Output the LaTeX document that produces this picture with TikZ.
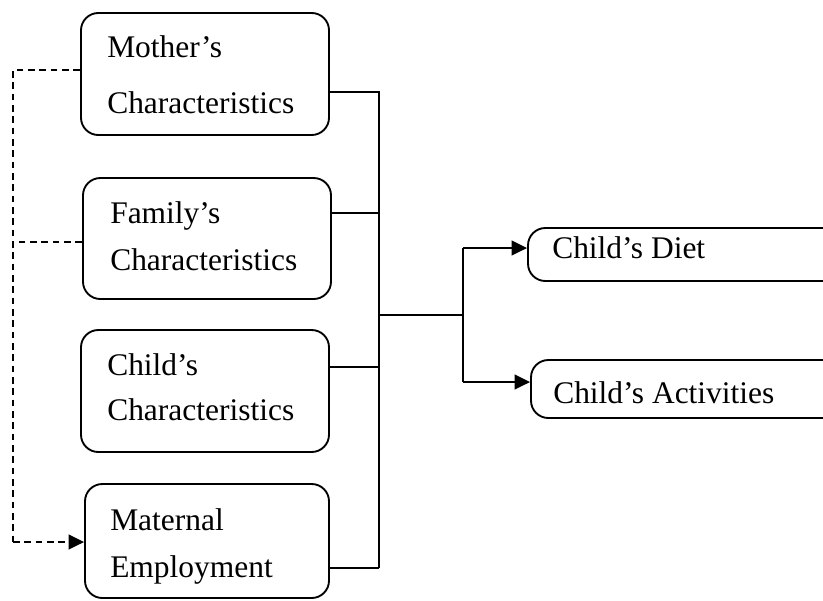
\documentclass[tikz,border=0pt]{standalone}
\usepackage{fontspec}
\setmainfont{Liberation Serif}
\usetikzlibrary{arrows.meta}
\begin{document}
\begin{tikzpicture}[x=0.75pt,y=-0.75pt,
  box/.style={draw, line width=1.4pt, rounded corners=13pt, inner sep=0pt},
  lbl/.style={anchor=base west, inner sep=0pt, font=\fontsize{23.6}{28}\selectfont},
  conn/.style={line width=1.4pt},
  dconn/.style={line width=1.4pt, dash pattern=on 5pt off 3.5pt},
  tip/.style={-{Triangle[length=11.5pt,width=11pt]}}]
\clip (0,0) rectangle (823,600);
\useasboundingbox (0,0) rectangle (823,600);
% boxes
\node[box, minimum width=186pt, minimum height=91.5pt] (mo) at (205,74) {};
\node[box, minimum width=186pt, minimum height=90.75pt] (fa) at (207,238.5) {};
\node[box, minimum width=186pt, minimum height=91.5pt] (ch) at (205,391) {};
\node[box, minimum width=183pt, minimum height=85.5pt] (me) at (207,541) {};
\node[box, minimum width=241.5pt, minimum height=39.75pt] (di) at (689,254.5) {};
\node[box, minimum width=239.25pt, minimum height=43.5pt] (ac) at (690.5,389) {};
% texts
\node[lbl] (t1a) at (107,57) {Mother’s};
\node[lbl] (t1b) at (107,113) {Characteristics};
\node[lbl] (t2a) at (110,223) {Family’s};
\node[lbl] (t2b) at (110,270) {Characteristics};
\node[lbl] (t3a) at (107,375) {Child’s};
\node[lbl] (t3b) at (107,420) {Characteristics};
\node[lbl] (t4a) at (110,530) {Maternal};
\node[lbl] (t4b) at (110,577) {Employment};
\node[lbl] (t5) at (552,258) {Child’s Diet};
\node[lbl] (t6) at (553,403) {Child’s Activities};
% junction coordinates
\coordinate (j1) at (379,92);
\coordinate (j2) at (379,213);
\coordinate (j3) at (379,367);
\coordinate (j4) at (379,568);
\coordinate (h1) at (379,315);
\coordinate (h2) at (463,315);
\coordinate (v1) at (463,248);
\coordinate (v2) at (463,382);
\coordinate (d1) at (13,70);
\coordinate (d2) at (13,242);
\coordinate (d3) at (13,542);
% solid connectors
\draw[conn] (mo.east |- j1) -- (j1) -- (j4);
\draw[conn] (fa.east |- j2) -- (j2);
\draw[conn] (ch.east |- j3) -- (j3);
\draw[conn] (me.east |- j4) -- (j4);
\draw[conn] (h1) -- (h2);
\draw[conn] (v1) -- (v2);
\draw[conn, tip] (v1) -- (di.west |- v1);
\draw[conn, tip] (v2) -- (ac.west |- v2);
% dashed connectors
\draw[dconn] (mo.west |- d1) -- (d1) -- (d3);
\draw[dconn] (fa.west |- d2) -- (d2);
\draw[dconn, tip] (d3) -- (me.west |- d3);
\end{tikzpicture}
\end{document}
